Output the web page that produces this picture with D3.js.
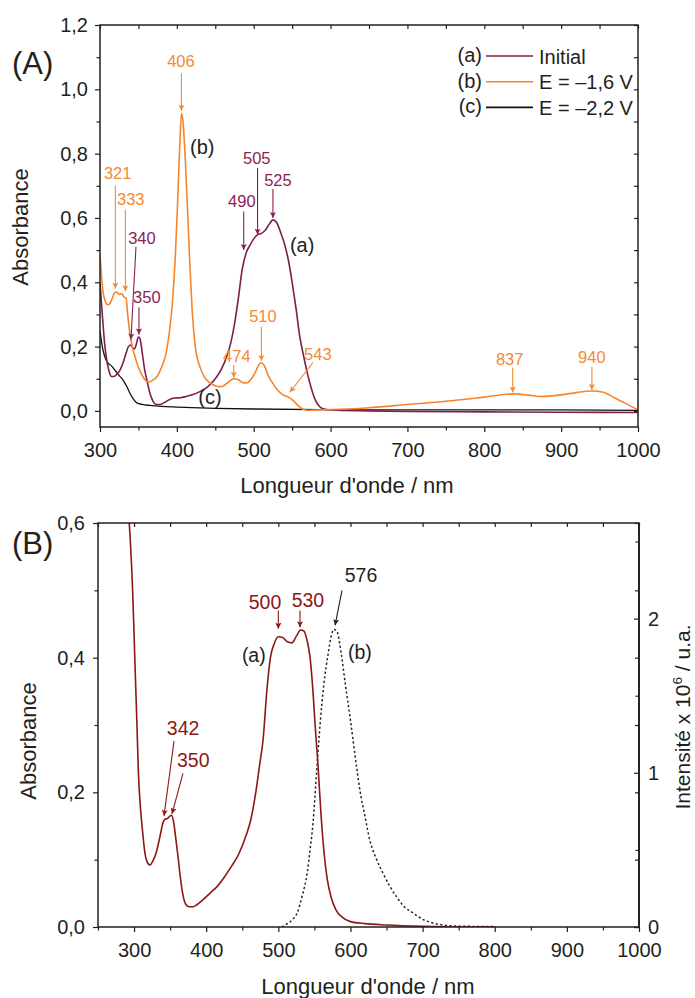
<!DOCTYPE html>
<html><head><meta charset="utf-8">
<script src="https://cdn.jsdelivr.net/npm/d3@7/dist/d3.min.js"></script>
<style>
body{margin:0;background:#fff}
svg{display:block}
text{font-family:"Liberation Sans",Arial,Helvetica,sans-serif}
</style>
</head><body>
<svg id="c" width="695" height="998"></svg>
<script>
// ---------------- DATA ----------------
// Panel A : absorbance spectra [wavelength nm, absorbance]
const specA_initial = [[300,0.40],[303,0.30],[306,0.21],[309,0.155],[312,0.122],[315,0.107],[318,0.107],[322,0.115],[326,0.127],[330,0.15],[334,0.18],[337,0.2],[340,0.205],[343,0.195],[345,0.193],[347,0.205],[350,0.23],[352,0.225],[355,0.18],[358,0.13],[361,0.096],[365,0.055],[369,0.03],[373,0.02],[378,0.02],[383,0.025],[390,0.035],[397,0.04],[405,0.041],[412,0.045],[420,0.05],[430,0.06],[440,0.075],[450,0.1],[458,0.13],[465,0.17],[470,0.21],[475,0.27],[480,0.35],[485,0.44],[490,0.49],[495,0.515],[500,0.535],[505,0.548],[510,0.552],[515,0.562],[520,0.58],[525,0.594],[530,0.585],[535,0.555],[540,0.52],[545,0.47],[550,0.40],[555,0.32],[560,0.23],[565,0.17],[570,0.115],[575,0.07],[580,0.035],[585,0.015],[590,0.007],[600,0.003],[650,0.0],[700,-0.002],[800,-0.003],[900,-0.004],[1000,-0.005]];
const specA_m16 = [[300,0.485],[302,0.42],[304,0.37],[307,0.34],[310,0.33],[313,0.335],[316,0.35],[319,0.368],[322,0.37],[325,0.362],[328,0.365],[331,0.355],[334,0.35],[336,0.3],[339,0.24],[342,0.2],[346,0.165],[350,0.135],[355,0.11],[360,0.093],[364,0.09],[368,0.095],[374,0.106],[380,0.135],[386,0.18],[390,0.24],[394,0.33],[398,0.48],[401,0.65],[404,0.84],[406,0.925],[408,0.9],[411,0.78],[414,0.62],[417,0.45],[420,0.31],[424,0.2],[430,0.137],[436,0.105],[443,0.087],[450,0.078],[456,0.075],[462,0.08],[468,0.092],[474,0.1],[480,0.097],[486,0.088],[491,0.087],[496,0.097],[502,0.12],[507,0.145],[510,0.15],[514,0.14],[519,0.11],[525,0.085],[531,0.065],[538,0.05],[545,0.043],[551,0.033],[557,0.018],[564,0.005],[570,0.002],[580,0.003],[600,0.004],[650,0.01],[700,0.02],[750,0.03],[800,0.043],[837,0.053],[855,0.05],[872,0.045],[900,0.05],[920,0.057],[940,0.062],[955,0.058],[970,0.04],[985,0.022],[1000,0.003]];
const specA_m22 = [[300,0.25],[303,0.2],[306,0.17],[310,0.15],[315,0.14],[320,0.125],[325,0.11],[330,0.096],[335,0.075],[339,0.055],[343,0.038],[348,0.025],[355,0.02],[365,0.017],[380,0.014],[400,0.012],[450,0.008],[500,0.006],[600,0.004],[700,0.003],[800,0.003],[900,0.003],[1000,0.002]];
// Panel B : absorbance (a) and emission intensity x10^6 (b)
const specB_abs = [[292,0.62],[295,0.57],[298,0.5],[301,0.4],[304,0.3],[306,0.23],[309,0.175],[312,0.14],[315,0.11],[318,0.097],[322,0.092],[326,0.098],[330,0.108],[334,0.125],[337,0.14],[340,0.155],[343,0.16],[346,0.161],[350,0.165],[352,0.166],[355,0.155],[358,0.13],[361,0.104],[364,0.075],[367,0.052],[371,0.035],[376,0.03],[382,0.03],[387,0.033],[395,0.04],[405,0.05],[415,0.06],[425,0.074],[435,0.09],[445,0.108],[455,0.135],[462,0.16],[468,0.195],[474,0.24],[479,0.28],[484,0.35],[489,0.4],[494,0.42],[500,0.431],[506,0.43],[512,0.424],[519,0.422],[525,0.432],[531,0.441],[535,0.44],[540,0.425],[544,0.4],[548,0.35],[551,0.3],[555,0.24],[559,0.17],[563,0.115],[568,0.07],[573,0.045],[580,0.025],[588,0.015],[600,0.008],[620,0.005],[650,0.003],[700,0.001],[750,0.0],[800,0.0]];
const specB_em = [[505,0],[512,0.02],[519,0.045],[526,0.09],[533,0.2],[540,0.35],[544,0.5],[548,0.67],[553,1.0],[558,1.32],[563,1.57],[569,1.77],[573,1.88],[577,1.93],[581,1.92],[587,1.78],[593,1.57],[600,1.34],[609,1.02],[613,0.89],[620,0.72],[627,0.56],[636,0.44],[645,0.35],[655,0.26],[664,0.195],[675,0.13],[687,0.09],[700,0.05],[714,0.026],[730,0.012],[747,0.006],[770,0.004],[800,0.004]];

// Ticks
const ticksA_x = [300,400,500,600,700,800,900,1000];
const ticksA_xMinor = [350,450,550,650,750,850,950];
const ticksA_y = [0,0.2,0.4,0.6,0.8,1.0,1.2];
const ticksA_yMinor = [0.1,0.3,0.5,0.7,0.9,1.1];
const ticksB_x = [300,400,500,600,700,800,900,1000];
const ticksB_xMinor = [250,350,450,550,650,750,850,950];
const ticksB_y = [0,0.2,0.4,0.6];
const ticksB_yMinor = [0.1,0.3,0.5];
const ticksB_i = [0,1,2];
const ticksB_iMinor = [0.5,1.5,2.5];

const legendLabels = ["(a)","(b)","(c)"];
const legendNames = ["Initial","E = \u20131,6 V","E = \u20132,2 V"];

// ---------------- STYLE ----------------
const FONT = '"Liberation Sans",Arial,Helvetica,sans-serif';
const INK = "#231f20";
const PURPLE = "#7e1d4e", ORANGE = "#f5852b", BLACK = "#111111", DRED = "#8c1717";
const PURPLE_T = "#8a1f55", ORANGE_T = "#f58a30";

const svg = d3.select("#c");
const defs = svg.append("defs");
function marker(id, color){
  defs.append("marker").attr("id",id).attr("viewBox","0 0 10 10")
    .attr("refX",10).attr("refY",5).attr("markerWidth",10).attr("markerHeight",6)
    .attr("markerUnits","userSpaceOnUse").attr("orient","auto")
    .append("path").attr("d","M0,0 L10,5 L0,10 L2,5 z").attr("fill",color);
}
marker("mO", ORANGE_T); marker("mP", PURPLE_T); marker("mR", DRED); marker("mK", INK);

const fmtComma = d => d.toFixed(1).replace(".", ",");

function drawAxes(g, x, y, o){
  const [xl, xr] = x.range(), [yb, yt] = y.range();
  const style = sel => {
    sel.attr("font-size", o.fs).attr("font-family", FONT);
    sel.select(".domain").remove();
    sel.selectAll("line").attr("stroke", INK).attr("stroke-width", 1.2);
    sel.selectAll("text").attr("fill", INK);
  };
  g.append("g").attr("transform",`translate(0,${yb})`)
    .call(d3.axisBottom(x).tickValues(o.xMajor).tickSize(5).tickPadding(o.xPad).tickFormat(d3.format("d"))).call(style);
  g.append("g").attr("transform",`translate(0,${yb})`)
    .call(d3.axisBottom(x).tickValues(o.xMinor).tickSize(3.5).tickFormat("")).call(style);
  g.append("g").attr("transform",`translate(0,${yt})`)
    .call(d3.axisBottom(x).tickValues(o.xMajor.concat(o.xMinor)).tickSize(4).tickFormat("")).call(style);
  g.append("g").attr("transform",`translate(${xl},0)`)
    .call(d3.axisLeft(y).tickValues(o.yMajor).tickSize(5).tickPadding(o.yPad).tickFormat(fmtComma)).call(style);
  g.append("g").attr("transform",`translate(${xl},0)`)
    .call(d3.axisLeft(y).tickValues(o.yMinor).tickSize(3.5).tickFormat("")).call(style);
  g.append("g").attr("transform",`translate(${xr},0)`)
    .call(d3.axisLeft(y).tickValues(o.yMajor.concat(o.yMinor)).tickSize(4).tickFormat("")).call(style);
  g.append("rect").attr("x",xl).attr("y",yt).attr("width",xr-xl).attr("height",yb-yt)
    .attr("fill","none").attr("stroke",INK).attr("stroke-width",1.5);
}

function txt(g, x, y, s, color, size, anchor){
  return g.append("text").attr("x",x).attr("y",y).attr("fill",color)
    .attr("font-size",size).attr("text-anchor",anchor||"middle").text(s);
}
function arrow(g, x1, y1, x2, y2, color, mid){
  g.append("line").attr("x1",x1).attr("y1",y1).attr("x2",x2).attr("y2",y2)
    .attr("stroke",color).attr("stroke-width",1.1).attr("marker-end",`url(#${mid})`);
}

// ---------------- PANEL A ----------------
const xA = d3.scaleLinear().domain([300,1000]).range([100,638]);
const yA = d3.scaleLinear().domain([-0.05,1.2]).range([427,25]);
const gA = svg.append("g");
defs.append("clipPath").attr("id","clipA").append("rect")
  .attr("x",xA(300)).attr("y",yA(1.2)).attr("width",xA(1000)-xA(300)).attr("height",yA(-0.05)-yA(1.2));
const lineA = d3.line().x(d=>xA(d[0])).y(d=>yA(d[1])).curve(d3.curveMonotoneX);
const cA = gA.append("g").attr("clip-path","url(#clipA)");
cA.append("path").datum(specA_m22).attr("d",lineA).attr("fill","none").attr("stroke",BLACK).attr("stroke-width",1.3);
cA.append("path").datum(specA_initial).attr("d",lineA).attr("fill","none").attr("stroke",PURPLE).attr("stroke-width",1.6);
cA.append("path").datum(specA_m16).attr("d",lineA).attr("fill","none").attr("stroke",ORANGE).attr("stroke-width",1.6);

drawAxes(gA, xA, yA, {xMajor:ticksA_x, xMinor:ticksA_xMinor, yMajor:ticksA_y, yMinor:ticksA_yMinor, fs:20, xPad:11, yPad:7});

txt(gA, 347, 493, "Longueur d'onde / nm", INK, 22);
txt(gA, 0, 0, "Absorbance", INK, 22).attr("transform","translate(28,227) rotate(-90)");
txt(gA, 12, 74, "(A)", INK, 31, "start");

const legColors = [PURPLE, ORANGE, BLACK];
legendLabels.forEach((l,i)=>{
  const yy = 56 + i*25.7;
  txt(gA, 482, yy+6, l, INK, 20, "end");
  gA.append("line").attr("x1",486).attr("x2",533).attr("y1",yy).attr("y2",yy).attr("stroke",legColors[i]).attr("stroke-width",1.6);
  txt(gA, 539, yy+7.5, legendNames[i], INK, 20, "start");
});

// annotations panel A: [label, color, marker, labelNm, labelAbs, x1nm, y1, x2nm, y2]
const annA = [
  ["406", ORANGE_T, "mO", 405.3, 1.068, 406, 1.05, 406, 0.933],
  ["321", ORANGE_T, "mO", 323, 0.72, 320, 0.70, 320, 0.38],
  ["333", ORANGE_T, "mO", 340, 0.64, 333, 0.625, 333, 0.372],
  ["340", PURPLE_T, "mP", 354.6, 0.52, 346.8, 0.51, 340.3, 0.222],
  ["350", PURPLE_T, "mP", 361, 0.335, 350.7, 0.322, 350.7, 0.238],
  ["490", PURPLE_T, "mP", 484.6, 0.634, 487, 0.62, 487, 0.50],
  ["505", PURPLE_T, "mP", 504, 0.768, 505, 0.755, 505, 0.548],
  ["525", PURPLE_T, "mP", 531.5, 0.70, 525, 0.69, 525, 0.60],
  ["474", ORANGE_T, "mO", 478, 0.152, 474, 0.143, 474, 0.103],
  ["510", ORANGE_T, "mO", 512, 0.277, 510, 0.262, 510, 0.155],
  ["543", ORANGE_T, "mO", 583.5, 0.158, 577, 0.15, 547, 0.058],
  ["837", ORANGE_T, "mO", 833, 0.143, 837, 0.134, 837, 0.057],
  ["940", ORANGE_T, "mO", 940, 0.149, 940, 0.137, 940, 0.065]
];
annA.forEach(a=>{
  txt(gA, xA(a[3]), yA(a[4]), a[0], a[1], 16.5);
  arrow(gA, xA(a[5]), yA(a[6]), xA(a[7]), yA(a[8]), a[1], a[2]);
});
txt(gA, xA(433), yA(0.80), "(b)", INK, 20);
txt(gA, xA(563), yA(0.495), "(a)", INK, 20);
txt(gA, xA(443), yA(0.022), "(c)", INK, 20);

// ---------------- PANEL B ----------------
const xB = d3.scaleLinear().domain([250,1000]).range([98,639]);
const yB = d3.scaleLinear().domain([0,0.6]).range([927,523]);
const yI = d3.scaleLinear().domain([0,2.62]).range([927,523]);
const gB = svg.append("g");
defs.append("clipPath").attr("id","clipB").append("rect")
  .attr("x",xB(250)).attr("y",yB(0.6)).attr("width",xB(1000)-xB(250)).attr("height",yB(0)-yB(0.6));
const cB = gB.append("g").attr("clip-path","url(#clipB)");
cB.append("path").datum(specB_em)
  .attr("d", d3.line().x(d=>xB(d[0])).y(d=>yI(d[1])).curve(d3.curveMonotoneX))
  .attr("fill","none").attr("stroke",INK).attr("stroke-width",1.5).attr("stroke-dasharray","2.2,2.4");
cB.append("path").datum(specB_abs)
  .attr("d", d3.line().x(d=>xB(d[0])).y(d=>yB(d[1])).curve(d3.curveMonotoneX))
  .attr("fill","none").attr("stroke",DRED).attr("stroke-width",1.6);

drawAxes(gB, xB, yB, {xMajor:ticksB_x, xMinor:ticksB_xMinor, yMajor:ticksB_y, yMinor:ticksB_yMinor, fs:20, xPad:11, yPad:8});
const styleR = sel => {
  sel.attr("font-size",20).attr("font-family",FONT);
  sel.select(".domain").remove();
  sel.selectAll("line").attr("stroke",INK).attr("stroke-width",1.2);
  sel.selectAll("text").attr("fill",INK);
};
gB.append("g").attr("transform",`translate(${xB(1000)},0)`)
  .call(d3.axisRight(yI).tickValues(ticksB_i).tickSize(-5).tickPadding(9).tickFormat(d3.format("d"))).call(styleR);
gB.append("g").attr("transform",`translate(${xB(1000)},0)`)
  .call(d3.axisRight(yI).tickValues(ticksB_iMinor).tickSize(-3.5).tickFormat("")).call(styleR);
gB.append("line").attr("x1",xB(1000)).attr("x2",xB(1000)).attr("y1",yB(0.6)).attr("y2",yB(0)).attr("stroke",INK).attr("stroke-width",1.8);

txt(gB, 368, 994, "Longueur d'onde / nm", INK, 22);
txt(gB, 0, 0, "Absorbance", INK, 22).attr("transform","translate(36,741) rotate(-90)");
const rt = txt(gB, 0, 0, "", INK, 21).attr("transform","translate(690,717) rotate(-90)");
rt.append("tspan").text("Intensit\u00e9 x 10");
rt.append("tspan").attr("dy",-8).attr("font-size",13.5).text("6");
rt.append("tspan").attr("dy",8).text(" / u.a.");
txt(gB, 12, 554, "(B)", INK, 31, "start");

const annB = [
  ["500", DRED, "mR", 481.5, 0.472, 500, 0.470, 500, 0.443],
  ["530", DRED, "mR", 541, 0.475, 530, 0.470, 530, 0.445],
  ["342", DRED, "mR", 368, 0.285, 355.4, 0.276, 341.5, 0.165],
  ["350", DRED, "mR", 382, 0.238, 367.8, 0.228, 352.6, 0.168],
  ["576", INK, "mK", 614.6, 0.512, 588.3, 0.50, 578.6, 0.448]
];
annB.forEach(a=>{
  txt(gB, xB(a[3]), yB(a[4]), a[0], a[1], 19.5);
  arrow(gB, xB(a[5]), yB(a[6]), xB(a[7]), yB(a[8]), a[1], a[2]);
});
txt(gB, xB(466), yB(0.394), "(a)", INK, 19.5);
txt(gB, xB(613), yB(0.398), "(b)", INK, 19.5);
</script>
</body></html>
